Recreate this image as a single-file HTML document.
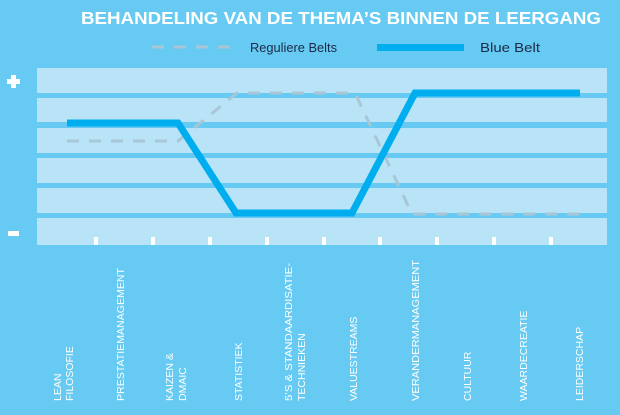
<!DOCTYPE html>
<html><head><meta charset="utf-8"><style>
html,body{margin:0;padding:0;background:#66caf2;}
svg{display:block;font-family:"Liberation Sans",sans-serif;}
</style></head><body>
<svg width="620" height="415" viewBox="0 0 620 415">
<rect width="620" height="415" fill="#66caf2"/>
<text x="341" y="24" text-anchor="middle" fill="#fff" font-size="17.5" font-weight="bold" textLength="520" lengthAdjust="spacingAndGlyphs">BEHANDELING VAN DE THEMA’S BINNEN DE LEERGANG</text>
<line x1="152" y1="47" x2="238" y2="47" stroke="#a9c6d6" stroke-width="3" stroke-dasharray="12,10"/>
<text x="250" y="52" fill="#1b2a48" font-size="13" textLength="87" lengthAdjust="spacingAndGlyphs">Reguliere Belts</text>
<rect x="377" y="44" width="87" height="7" fill="#00aeef"/>
<text x="480" y="52" fill="#1b2a48" font-size="13" textLength="60" lengthAdjust="spacingAndGlyphs">Blue Belt</text>
<g fill="#b9e4f8">
<rect x="37" y="68" width="570" height="25"/>
<rect x="37" y="98" width="570" height="24"/>
<rect x="37" y="128" width="570" height="25"/>
<rect x="37" y="158" width="570" height="25"/>
<rect x="37" y="188" width="570" height="25"/>
<rect x="37" y="218" width="570" height="27"/>
</g>
<g fill="#fff">
<rect x="7" y="79" width="13" height="5"/><rect x="11" y="75" width="5" height="13"/>
<rect x="8" y="231" width="11" height="5"/>
<rect x="94" y="237" width="4" height="8"/><rect x="151" y="237" width="4" height="8"/>
<rect x="208" y="237" width="4" height="8"/><rect x="265" y="237" width="4" height="8"/>
<rect x="322" y="237" width="4" height="8"/><rect x="378" y="237" width="4" height="8"/>
<rect x="435" y="237" width="4" height="8"/><rect x="492" y="237" width="4" height="8"/>
<rect x="549" y="237" width="4" height="8"/>
</g>
<polyline points="67,141 178,141 237,93 355,93 412,214 583,214" fill="none" stroke="#a9c6d6" stroke-width="3" stroke-dasharray="12,10"/>
<polyline points="67,123 178,123 236,213 352,213 415,93 580,93" fill="none" stroke="#00aeef" stroke-width="7"/>
<g fill="#fff" font-size="10.5">
<text transform="translate(61,401) rotate(-90)">LEAN</text>
<text transform="translate(73,401) rotate(-90)">FILOSOFIE</text>
<text transform="translate(124,401) rotate(-90)" textLength="133" lengthAdjust="spacingAndGlyphs">PRESTATIEMANAGEMENT</text>
<text transform="translate(173,401) rotate(-90)">KAIZEN &amp;</text>
<text transform="translate(186,401) rotate(-90)">DMAIC</text>
<text transform="translate(242,401) rotate(-90)">STATISTIEK</text>
<text transform="translate(292,401) rotate(-90)" textLength="138" lengthAdjust="spacingAndGlyphs">5’S &amp; STANDAARDISATIE-</text>
<text transform="translate(305,401) rotate(-90)">TECHNIEKEN</text>
<text transform="translate(357,401) rotate(-90)">VALUESTREAMS</text>
<text transform="translate(419,401) rotate(-90)" textLength="141" lengthAdjust="spacingAndGlyphs">VERANDERMANAGEMENT</text>
<text transform="translate(471,401) rotate(-90)">CULTUUR</text>
<text transform="translate(527,401) rotate(-90)">WAARDECREATIE</text>
<text transform="translate(583,401) rotate(-90)">LEIDERSCHAP</text>
</g>
</svg>
</body></html>
